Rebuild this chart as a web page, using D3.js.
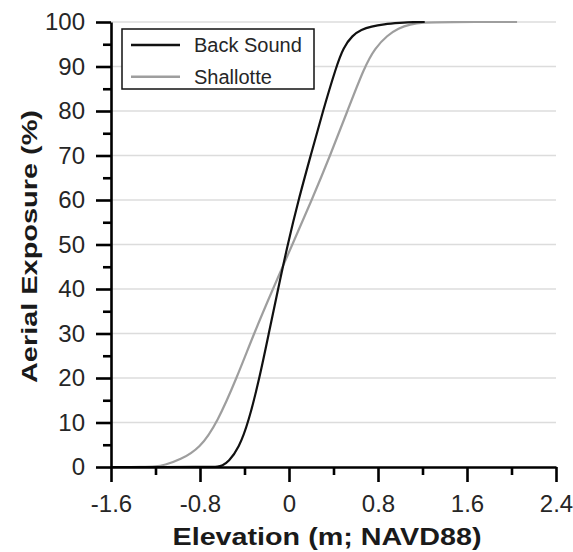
<!DOCTYPE html>
<html>
<head>
<meta charset="utf-8">
<script src="https://cdn.jsdelivr.net/npm/d3@7"></script>
<style>
  html, body { margin: 0; padding: 0; background: #fff; }
  svg { display: block; }
  text { font-family: "Liberation Sans", Arial, sans-serif; }
</style>
</head>
<body>
<svg id="chart" width="573" height="552"></svg>
<script>
// Aerial exposure curves versus elevation for two sites
const xTicks = [-1.6, -0.8, 0, 0.8, 1.6, 2.4];
const xMinorTicks = [-1.2, -0.4, 0.4, 1.2, 2.0];
const yTicks = [0, 10, 20, 30, 40, 50, 60, 70, 80, 90, 100];
const yMinorTicks = [5, 15, 25, 35, 45, 55, 65, 75, 85, 95];

const seriesNames = ["Back Sound", "Shallotte"];

// elevation (m), exposure (%)
const backSoundElev = [-1.6, -0.7, -0.64, -0.6, -0.545, -0.45, -0.365, -0.265, -0.182, -0.098, -0.012,
  0.085, 0.195, 0.305, 0.425, 0.49, 0.57, 0.65, 0.74, 0.85, 1.0, 1.12, 1.22];
const backSoundExp = [0, 0, 0.05, 0.3, 1.1, 4.3, 10, 20, 30, 40, 50,
  60, 70, 80, 90, 94.3, 97, 98.3, 99.0, 99.5, 99.8, 100, 100];

const shallotteElev = [-1.6, -1.3, -1.2, -1.12, -0.98, -0.8, -0.645, -0.47, -0.315, -0.145, 0.03,
  0.205, 0.37, 0.525, 0.68, 0.775, 0.884, 0.983, 1.09, 1.2, 1.4, 2.05];
const shallotteExp = [0, 0, 0.1, 0.4, 1.6, 4.2, 10, 20, 30, 40, 50,
  60, 70, 80, 90, 94.2, 97, 98.6, 99.5, 99.9, 100, 100];

const svg = d3.select("#chart");

const x = d3.scaleLinear().domain([-1.6, 2.4]).range([111, 556]);
const y = d3.scaleLinear().domain([0, 100]).range([467, 22]);

// horizontal gridlines
svg.append("g")
  .selectAll("line")
  .data(yTicks.filter(d => d > 0))
  .join("line")
  .attr("x1", x(-1.6)).attr("x2", x(2.4))
  .attr("y1", d => y(d)).attr("y2", d => y(d))
  .attr("stroke", "#dcdcdc")
  .attr("stroke-width", 1.5);

// curves
const line = d3.line()
  .x(d => x(d[0]))
  .y(d => y(d[1]))
  .curve(d3.curveBasis);

const series = [
  { name: seriesNames[0], pts: d3.zip(backSoundElev, backSoundExp), color: "#111" },
  { name: seriesNames[1], pts: d3.zip(shallotteElev, shallotteExp), color: "#9e9e9e" }
];

svg.append("g")
  .selectAll("path")
  .data(series.slice().reverse())
  .join("path")
  .attr("d", d => line(d.pts))
  .attr("fill", "none")
  .attr("stroke", d => d.color)
  .attr("stroke-width", 2.2);

// axes
const tickFont = 24;
const xAxis = d3.axisBottom(x).tickValues(xTicks).tickSize(15).tickSizeOuter(0).tickPadding(13)
  .tickFormat(d => String(d));
const yAxis = d3.axisLeft(y).tickValues(yTicks).tickSize(15).tickSizeOuter(0).tickPadding(11);

svg.append("g").attr("transform", `translate(0,${y(0)})`).call(xAxis);
svg.append("g").attr("transform", `translate(${x(-1.6)},0)`).call(yAxis);

svg.append("g").attr("transform", `translate(0,${y(0)})`)
  .call(d3.axisBottom(x).tickValues(xMinorTicks).tickSize(8).tickSizeOuter(0).tickFormat(""))
  .select(".domain").remove();
svg.append("g").attr("transform", `translate(${x(-1.6)},0)`)
  .call(d3.axisLeft(y).tickValues(yMinorTicks).tickSize(8).tickSizeOuter(0).tickFormat(""))
  .select(".domain").remove();

svg.selectAll(".domain, .tick line")
  .attr("stroke", "#000")
  .attr("stroke-width", 2.6);
svg.selectAll(".tick text")
  .attr("font-family", "'Liberation Sans', Arial, sans-serif")
  .attr("font-size", tickFont)
  .attr("fill", "#262626");

// axis titles
svg.append("text")
  .attr("x", 327).attr("y", 545)
  .attr("text-anchor", "middle")
  .attr("font-size", 24)
  .attr("font-weight", "bold")
  .attr("fill", "#1a1a1a")
  .attr("textLength", 309)
  .attr("lengthAdjust", "spacingAndGlyphs")
  .text("Elevation (m; NAVD88)");

svg.append("text")
  .attr("transform", "translate(37,246.5) rotate(-90)")
  .attr("text-anchor", "middle")
  .attr("font-size", 22)
  .attr("font-weight", "bold")
  .attr("fill", "#1a1a1a")
  .attr("textLength", 273)
  .attr("lengthAdjust", "spacingAndGlyphs")
  .text("Aerial Exposure (%)");

// legend
const legend = svg.append("g");
legend.append("rect")
  .attr("x", 122).attr("y", 29)
  .attr("width", 192).attr("height", 60)
  .attr("fill", "#fff")
  .attr("stroke", "#111")
  .attr("stroke-width", 1.5);

const items = legend.selectAll("g.item")
  .data(series)
  .join("g")
  .attr("class", "item")
  .attr("transform", (d, i) => `translate(0,${45 + i * 31.7})`);
items.append("line")
  .attr("x1", 131).attr("x2", 180)
  .attr("stroke", d => d.color)
  .attr("stroke-width", 2.4);
items.append("text")
  .attr("x", 194).attr("y", 7)
  .attr("font-size", 20)
  .attr("fill", "#262626")
  .text(d => d.name);
</script>
</body>
</html>
